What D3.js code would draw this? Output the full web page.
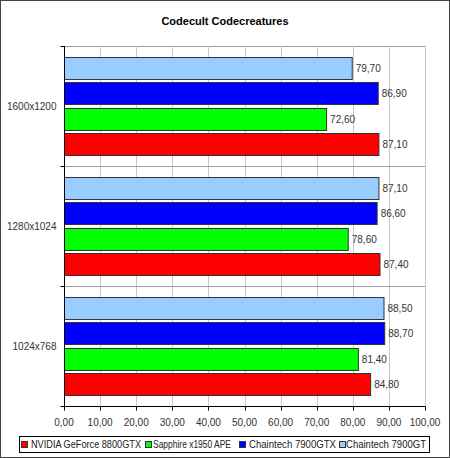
<!DOCTYPE html>
<html>
<head>
<meta charset="utf-8">
<script src="https://cdn.jsdelivr.net/npm/d3@7/dist/d3.min.js"></script>
<style>
  body { margin: 0; background: #fff; }
  svg { display: block; font-family: "Liberation Sans", Arial, sans-serif; }
</style>
</head>
<body>
<svg id="chart"></svg>
<script>
const categories = ["1600x1200", "1280x1024", "1024x768"];
const seriesNames = ["NVIDIA GeForce 8800GTX", "Sapphire x1950 APE", "Chaintech 7900GTX", "Chaintech 7900GT"];
const seriesColors = ["#ff0000", "#00ff00", "#0000ff", "#99ccff"];
// values per series, in category order
const nvidia8800 = [87.10, 87.40, 84.80];
const sapphire1950 = [72.60, 78.60, 81.40];
const chaintech7900gtx = [86.90, 86.60, 88.70];
const chaintech7900gt = [79.70, 87.10, 88.50];
const xTicks = [0, 10, 20, 30, 40, 50, 60, 70, 80, 90, 100];

const seriesValues = [nvidia8800, sapphire1950, chaintech7900gtx, chaintech7900gt];
const width = 450, height = 458;
const plot = { left: 64, right: 425, top: 46, bottom: 406 };
const fmt = v => v.toFixed(2).replace(".", ",");

const svg = d3.select("#chart").attr("width", width).attr("height", height);

// outer frame
svg.append("rect").attr("x", 0.5).attr("y", 0.5).attr("width", width - 1).attr("height", height - 1)
  .attr("fill", "#fff").attr("stroke", "#444");

svg.append("text").attr("x", 225).attr("y", 25).attr("text-anchor", "middle")
  .attr("font-size", 11).attr("font-weight", "bold").attr("fill", "#000")
  .text("Codecult Codecreatures");

const x = d3.scaleLinear().domain([0, 100]).range([plot.left, plot.right]);
const y = d3.scaleBand().domain(categories).range([plot.top, plot.bottom]);
// top to bottom inside a group: 7900GT, 7900GTX, Sapphire, NVIDIA
const inner = d3.scaleBand().domain([3, 2, 1, 0]).range([0, y.bandwidth()])
  .paddingInner(0.137).paddingOuter(0.42);

// plot border
svg.append("rect").attr("x", plot.left + 0.5).attr("y", plot.top + 0.5)
  .attr("width", plot.right - plot.left).attr("height", plot.bottom - plot.top)
  .attr("fill", "#fff").attr("stroke", "#a0a0a0");

// vertical grid
svg.append("g").selectAll("line").data(xTicks.slice(1)).join("line")
  .attr("x1", d => Math.round(x(d)) + 0.5).attr("x2", d => Math.round(x(d)) + 0.5)
  .attr("y1", plot.top).attr("y2", plot.bottom).attr("stroke", "#c8c8c8");

// group separators
svg.append("g").selectAll("line").data(categories.slice(1)).join("line")
  .attr("x1", plot.left).attr("x2", plot.right)
  .attr("y1", d => Math.round(y(d)) + 0.5).attr("y2", d => Math.round(y(d)) + 0.5)
  .attr("stroke", "#a0a0a0");

// bars
const groups = svg.append("g").selectAll("g").data(categories).join("g")
  .attr("transform", d => `translate(0,${y(d)})`);

groups.each(function (cat, ci) {
  const g = d3.select(this);
  const rows = seriesValues.map((vals, si) => ({ si, v: vals[ci] }));
  g.selectAll("rect").data(rows).join("rect")
    .attr("x", x(0) + 0.5)
    .attr("y", d => Math.round(inner(d.si)) + 0.5)
    .attr("width", d => x(d.v) - x(0))
    .attr("height", Math.round(inner.bandwidth()))
    .attr("fill", d => seriesColors[d.si])
    .attr("stroke", "#333").attr("stroke-width", 1);
  g.selectAll("text").data(rows).join("text")
    .attr("x", d => x(d.v) + 4)
    .attr("y", d => inner(d.si) + inner.bandwidth() / 2 + 4)
    .attr("font-size", 10).attr("fill", "#333")
    .text(d => fmt(d.v));
});

// y axis
const yAxis = svg.append("g").attr("transform", `translate(${plot.left + 0.5},0)`);
yAxis.append("line").attr("y1", plot.top).attr("y2", plot.bottom).attr("stroke", "#000");
const yTickPos = [plot.top, ...categories.slice(1).map(c => y(c)), plot.bottom];
yAxis.selectAll(".tk").data(yTickPos).join("line").attr("class", "tk")
  .attr("x1", -4).attr("x2", 0)
  .attr("y1", d => Math.round(d) + 0.5).attr("y2", d => Math.round(d) + 0.5)
  .attr("stroke", "#000");
yAxis.selectAll("text").data(categories).join("text")
  .attr("x", -8).attr("y", d => y(d) + y.bandwidth() / 2 + 4)
  .attr("text-anchor", "end").attr("font-size", 10).attr("fill", "#333")
  .text(d => d);

// x axis
const xAxis = svg.append("g").attr("transform", `translate(0,${plot.bottom + 0.5})`);
xAxis.append("line").attr("x1", plot.left).attr("x2", plot.right).attr("stroke", "#000");
xAxis.selectAll(".tk").data(xTicks).join("line").attr("class", "tk")
  .attr("x1", d => Math.round(x(d)) + 0.5).attr("x2", d => Math.round(x(d)) + 0.5)
  .attr("y1", 0).attr("y2", 4).attr("stroke", "#000");
xAxis.selectAll("text").data(xTicks).join("text")
  .attr("x", d => x(d)).attr("y", 19)
  .attr("text-anchor", "middle").attr("font-size", 10).attr("fill", "#333")
  .text(d => fmt(d));

// legend
const legend = svg.append("g");
legend.append("rect").attr("x", 19.5).attr("y", 436.5).attr("width", 410).attr("height", 16)
  .attr("fill", "#fff").attr("stroke", "#000");
const legendMarkX = [21, 145, 239, 339];
const legendTextX = [31, 153, 249, 346];
const legendTextW = [110, 78, 87, 80];
const items = legend.selectAll("g").data(seriesNames).join("g");
items.append("rect")
  .attr("x", (d, i) => legendMarkX[i] + 0.5).attr("y", 441.5).attr("width", 6).attr("height", 6)
  .attr("fill", (d, i) => seriesColors[i]).attr("stroke", "#333");
items.append("text")
  .attr("x", (d, i) => legendTextX[i]).attr("y", 448)
  .attr("textLength", (d, i) => legendTextW[i]).attr("lengthAdjust", "spacingAndGlyphs")
  .attr("font-size", 10.5).attr("fill", "#222")
  .text(d => d);
</script>
</body>
</html>
